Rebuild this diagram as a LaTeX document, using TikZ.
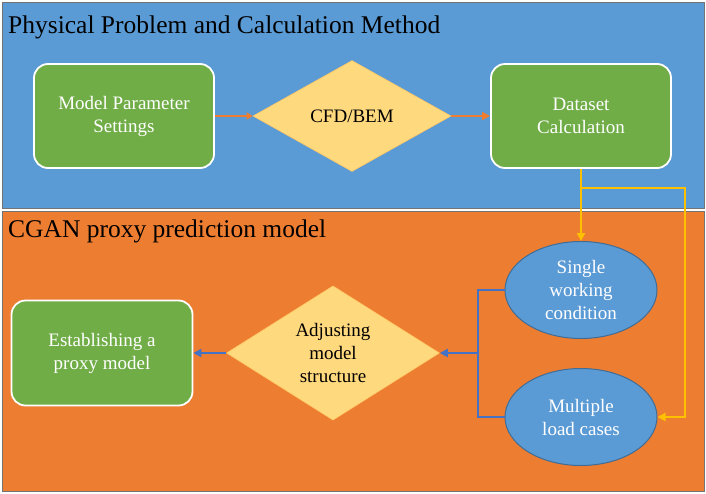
\documentclass[tikz,border=0pt]{standalone}
\usepackage{fontspec}
\setmainfont{Liberation Serif}
\usepackage{tikz}
\usetikzlibrary{arrows.meta,positioning,shapes.geometric}
\definecolor{panelblue}{HTML}{5B9BD5}
\definecolor{panelorange}{HTML}{ED7D31}
\definecolor{boxgreen}{HTML}{70AD47}
\definecolor{diamyellow}{HTML}{FFD97E}
\definecolor{linkblue}{HTML}{4472C4}
\definecolor{linkgold}{HTML}{FFC000}

\begin{document}
\begin{tikzpicture}[x=1pt, y=-1pt, font=\fontsize{19}{23}\selectfont,
   panel/.style={draw=black!55, line width=0.8pt},
   title/.style={anchor=base west, inner sep=0pt, font=\fontsize{25.5}{30}\selectfont},
   gbox/.style={draw=white, line width=1.8pt, fill=boxgreen, rounded corners=14pt,
                text=white, align=center, minimum width=180pt, minimum height=104pt, inner sep=2pt},
   decision/.style={diamond, draw=diamyellow!80!orange, line width=0.6pt, fill=diamyellow,
                align=center, inner sep=0pt},
   oval/.style={ellipse, draw=panelblue!70!black, line width=1pt, fill=panelblue, text=white,
                align=center, minimum width=152pt, minimum height=97pt, inner sep=0pt},
   tip/.style={-{Triangle[length=8pt,width=8pt]}, line width=2.2pt}]
  \useasboundingbox (0,0) rectangle (706,493);
  % the two panels
  \fill[white] (0,0) rectangle (706,493);
  \draw[panel, fill=panelblue]   (2,2)   rectangle (704,208);
  \draw[panel, fill=panelorange] (2,211) rectangle (704,491);
  \node[title] (ttop) at (8,33)  {Physical Problem and Calculation Method};
  \node[title] (tbot) at (8,237) {CGAN proxy prediction model};

  % upper row
  \node[gbox]  (mps)  at (124,116) {Model Parameter\\Settings};
  \node[decision, minimum width=198pt, minimum height=111pt] (cfd) at (352,116) {CFD/BEM};
  \node[gbox]  (data) at (581,116) {Dataset\\Calculation};
  \draw[tip, draw=panelorange, -{Triangle[length=6pt,width=7pt]}] (mps) -- (cfd);
  \draw[tip, draw=panelorange] (cfd) -- (data);

  % lower row
  \node[oval]  (single) at (581,290) {Single\\working\\condition};
  \node[oval]  (multi)  at (581,417) {Multiple\\load cases};
  \node[decision, minimum width=213pt, minimum height=120pt] (adj) at (333,353) {Adjusting\\model\\structure};
  \node[gbox, minimum width=181pt, minimum height=105pt] (est) at (102,353) {Establishing a\\proxy model};

  \coordinate (ycorner) at (685,188);
  \coordinate (bjoin)   at (478,353);
  \draw[tip, draw=linkgold] (data) -- (single);
  \draw[tip, draw=linkgold] (data.south |- ycorner) -- (ycorner) |- (multi.east);
  \draw[tip, draw=linkblue] (single.west) -| (bjoin) -- (adj.east);
  \draw[line width=2.2pt, linkblue] (multi.west) -| (bjoin);
  \draw[tip, draw=linkblue] (adj) -- (est);
\end{tikzpicture}
\end{document}
